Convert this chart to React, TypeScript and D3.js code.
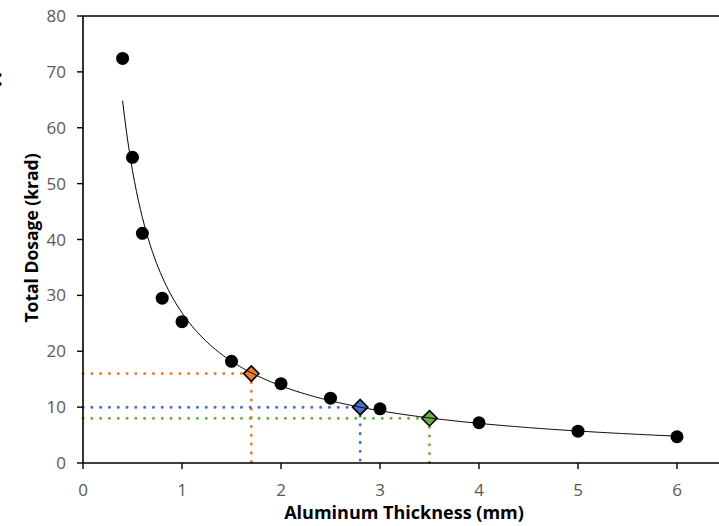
import React, { useEffect, useRef } from "react";
import * as d3 from "d3";

// measured points
const thickness = [0.4, 0.5, 0.6, 0.8, 1.0, 1.5, 2.0, 2.5, 3.0, 4.0, 5.0, 6.0];
const dosage = [72.4, 54.7, 41.1, 29.5, 25.3, 18.2, 14.2, 11.6, 9.7, 7.2, 5.7, 4.7];

// highlighted readings
const markX = [1.7, 2.8, 3.5];
const markY = [16, 10, 8];
const markColors = ["#ED7D31", "#4472C4", "#70AD47"];

const xTicks = [0, 1, 2, 3, 4, 5, 6];
const yTicks = [0, 10, 20, 30, 40, 50, 60, 70, 80];

export default function App() {
  const ref = useRef<SVGSVGElement>(null);

  useEffect(() => {
    var svg = d3.select(ref.current);
    svg.selectAll("*").remove();

    var margin = { top: 16, left: 83 },
      h = 463 - margin.top;

    var x = d3.scaleLinear().domain([0, 7]).range([margin.left, margin.left + 7 * 99]);
    var y = d3.scaleLinear().domain([0, 80]).range([margin.top + h, margin.top]);

    var font = "'Open Sans', sans-serif";

    // power trendline fitted from the data (log-log least squares)
    var lx = thickness.map((v) => Math.log(v));
    var ly = dosage.map((v) => Math.log(v));
    var mx = d3.mean(lx) as number;
    var my = d3.mean(ly) as number;
    var sxy = d3.sum(lx, (v, i) => (v - mx) * (ly[i] - my));
    var sxx = d3.sum(lx, (v) => (v - mx) * (v - mx));
    var b = sxy / sxx;
    var a = Math.exp(my - b * mx);

    // dotted guide lines
    markX.forEach((mxv, i) => {
      var g = svg.append("g");
      g.append("line")
        .attr("x1", x(0)).attr("x2", x(mxv))
        .attr("y1", y(markY[i])).attr("y2", y(markY[i]));
      g.append("line")
        .attr("x1", x(mxv)).attr("x2", x(mxv))
        .attr("y1", y(markY[i])).attr("y2", y(0));
      g.selectAll("line")
        .attr("stroke", markColors[i])
        .attr("stroke-width", 3)
        .attr("stroke-linecap", "round")
        .attr("stroke-dasharray", "0.1 8.7");
    });

    // axes
    svg.append("line")
      .attr("x1", x(0)).attr("x2", 719)
      .attr("y1", y(0)).attr("y2", y(0))
      .attr("stroke", "#000").attr("stroke-width", 1.6);
    svg.append("line")
      .attr("x1", x(0)).attr("x2", 719)
      .attr("y1", y(80)).attr("y2", y(80))
      .attr("stroke", "#000").attr("stroke-width", 1.6);
    svg.append("line")
      .attr("x1", x(0)).attr("x2", x(0))
      .attr("y1", y(0)).attr("y2", y(80))
      .attr("stroke", "#000").attr("stroke-width", 1.6);

    svg.selectAll(".ytick")
      .data(yTicks)
      .join("line")
      .attr("class", "ytick")
      .attr("x1", x(0) - 6).attr("x2", x(0))
      .attr("y1", (d) => y(d)).attr("y2", (d) => y(d))
      .attr("stroke", "#000").attr("stroke-width", 1.4);
    svg.selectAll(".ylab")
      .data(yTicks)
      .join("text")
      .attr("class", "ylab")
      .attr("x", 66)
      .attr("y", (d) => y(d))
      .attr("dy", "0.36em")
      .attr("text-anchor", "end")
      .attr("font-family", font)
      .attr("font-size", 17)
      .attr("fill", "#595959")
      .text((d) => d);

    svg.selectAll(".xtick")
      .data(xTicks)
      .join("line")
      .attr("class", "xtick")
      .attr("x1", (d) => x(d)).attr("x2", (d) => x(d))
      .attr("y1", y(0)).attr("y2", y(0) + 6)
      .attr("stroke", "#000").attr("stroke-width", 1.4);
    svg.selectAll(".xlab")
      .data(xTicks)
      .join("text")
      .attr("class", "xlab")
      .attr("x", (d) => x(d))
      .attr("y", 496)
      .attr("text-anchor", "middle")
      .attr("font-family", font)
      .attr("font-size", 17)
      .attr("fill", "#595959")
      .text((d) => d);

    svg.append("text")
      .attr("x", 404).attr("y", 519)
      .attr("text-anchor", "middle")
      .attr("font-family", font)
      .attr("font-weight", "bold")
      .attr("font-size", 18)
      .attr("fill", "#000")
      .text("Aluminum Thickness (mm)");
    svg.append("text")
      .attr("transform", "translate(38,238) rotate(-90)")
      .attr("text-anchor", "middle")
      .attr("font-family", font)
      .attr("font-weight", "bold")
      .attr("font-size", 17.5)
      .attr("fill", "#000")
      .text("Total Dosage (krad)");

    // cropped panel label at the left edge
    svg.append("text")
      .attr("x", -4).attr("y", 86)
      .attr("font-family", font)
      .attr("font-weight", "bold")
      .attr("font-size", 24)
      .attr("fill", "#000")
      .text(":");

    // data points
    svg.selectAll(".pt")
      .data(thickness)
      .join("circle")
      .attr("class", "pt")
      .attr("cx", (d) => x(d))
      .attr("cy", (d, i) => y(dosage[i]))
      .attr("r", 6.5)
      .attr("fill", "#000");

    // diamonds
    svg.selectAll(".mk")
      .data(markX)
      .join("path")
      .attr("class", "mk")
      .attr("d", d3.symbol().type(d3.symbolDiamond2).size(150))
      .attr("transform", (d, i) => `translate(${x(d)},${y(markY[i])})`)
      .attr("fill", (d, i) => markColors[i])
      .attr("stroke", "#000")
      .attr("stroke-width", 1.6);

    // trendline
    var curveX = d3.range(0.4, 6.0001, 0.02);
    svg.append("path")
      .datum(curveX)
      .attr("d", d3.line<number>().x((d) => x(d)).y((d) => y(a * Math.pow(d, b))))
      .attr("fill", "none")
      .attr("stroke", "#000")
      .attr("stroke-width", 1);
  }, []);

  return (
    <svg
      ref={ref}
      width={719}
      height={526}
      style={{ position: "absolute", left: 0, top: 0, background: "#fff" }}
    ></svg>
  );
}
